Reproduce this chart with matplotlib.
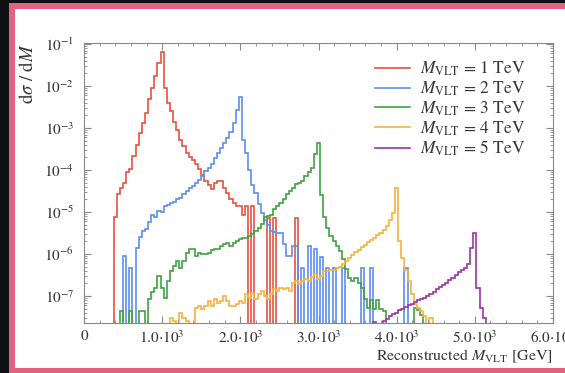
import numpy as np
import matplotlib
matplotlib.use('Agg')
import matplotlib.pyplot as plt
from matplotlib.patches import Rectangle
from matplotlib.ticker import MultipleLocator, FuncFormatter, LogLocator

plt.rcParams['font.family'] = 'STIXGeneral'
plt.rcParams['mathtext.fontset'] = 'stix'

# 40 GeV bins, centred on multiples of 40 GeV; None = empty bin
BIN = 40

# log10(dsigma/dM) per bin
red_start = 400
red_log = [-5.13, -4.58, -4.42, -4.3, -4.05, -3.98, -3.67, -3.4, -3.13, -2.88,
           -2.64, -2.3, -2.05, -1.75, -1.45, -1.20, -2.05, -2.4, -2.6, -2.85,
           -3.05, -3.28, -3.42, -3.6, -3.7, -3.77, -3.85, -3.97, -4.12, -4.25,
           -4.35, -4.45, -4.3, -4.25, -4.27, -4.42, -4.55, -4.7, -4.78, -4.86,
           -4.86, -5.06, -4.86, None, -4.86, None, None, None, None, -5.14,
           None, -5.14, None, None, None, None, None, None, -5.14]

blue_start = 520
blue_log = [-6.05, None, -6.34, None, -5.85, -5.6, -5.45, -5.4, -5.25, -5.06,
            -5.12, -4.98, -5.0, -4.86, -4.84, -4.78, -4.76, -4.7, -4.66, -4.58,
            -4.5, -4.42, -4.38, -4.3, -4.23, -4.15, -4.03, -3.95, -3.85, -3.72,
            -3.6, -3.48, -3.36, -3.24, -3.1, -2.88, -2.56, -2.27, -3.29, -3.6,
            -3.99, -4.35, -4.54, -4.82, -5.02, -5.18, -5.3, -5.45, -5.47, -5.49,
            -5.49, -5.77, -6.05, -6.05, -5.81, -5.81, None, -6.34, None, -5.8,
            None, -5.87, None, -6.06, None, -6.34, None, -6.34, None, None,
            -6.34, None, None, None, None, None, -6.34, None, None, -6.34,
            None, None, None, None, None, None, None, None, None, None,
            -6.34]

green_start = 480
green_log = [-7.36, None, None, -7.36, None, None, -7.36, -7.36, None, -7.08,
             -6.9, -6.8, -6.52, -6.8, -7.04, -6.64, -6.4, -6.29, -6.17, -6.33,
             -6.17, -5.97, -5.89, -5.89, -6.05, -5.97, -6.0, -6.01, -5.97, -5.9,
             -5.89, -5.89, -5.81, -5.77, -5.73, -5.81, -5.73, -5.69, -5.65, -5.61,
             -5.61, -5.57, -5.53, -5.45, -5.37, -5.29, -5.13, -5.1, -5.06, -4.94,
             -4.86, -4.78, -4.70, -4.58, -4.50, -4.42, -4.34, -4.3, -4.26, -4.15,
             -4.05, -3.95, -3.62, -3.35, -4.6, -5.13, -5.37, -5.57, -5.69, -5.81,
             -5.93, -6.13, -6.35, -6.56, -6.64, -6.56, -6.7, -6.8, -7.08, -7.28,
             -7.1, -7.3, -7.1, -7.3, -7.35, None, None, None, None, None,
             None, None, None, None, -7.29, -7.33, -7.45]

orange_start = 1120
orange_log = [-7.52, -7.6, None, -7.40, -7.52, -7.6, None, None, -7.28, -7.24,
              -7.32, -7.24, -7.12, -7.24, -7.08, -7.16, -7.12, -7.0, -7.12, -7.24,
              -7.24, -7.2, -7.12, -7.16, -6.96, -7.04, -6.92, -7.08, -6.96, -6.88,
              -7.0, -7.08, -6.96, -6.84, -6.88, -6.80, -6.84, -6.80, -6.88, -6.68,
              -6.64, -6.72, -6.64, -6.6, -6.64, -6.55, -6.48, -6.6, -6.52, -6.4,
              -6.4, -6.39, -6.37, -6.34, -6.31, -6.25, -6.17, -6.10, -6.02, -5.95,
              -5.9, -5.83, -5.78, -5.72, -5.67, -5.62, -5.55, -5.49, -5.44, -5.33,
              -5.2, -5.02, -4.42, -5.69, -6.09, -6.37, -6.64, -6.96, -7.2, -7.28,
              -7.35, -7.48, None, -7.52]

purple_start = 3720
purple_log = [-7.63, -7.66, -7.66, -7.6, -7.55, -7.48, -7.44, -7.4, -7.34, -7.3,
              -7.26, -7.22, -7.19, -7.15, -7.1, -7.07, -7.04, -7.0, -6.96, -6.9,
              -6.84, -6.79, -6.74, -6.69, -6.62, -6.56, -6.5, -6.44, -6.39, -6.34,
              -6.25, -5.85, -5.49, -6.8, -7.28, -7.52]

labels = [r'$M_{\mathrm{VLT}}$ = 1 TeV', r'$M_{\mathrm{VLT}}$ = 2 TeV',
          r'$M_{\mathrm{VLT}}$ = 3 TeV', r'$M_{\mathrm{VLT}}$ = 4 TeV',
          r'$M_{\mathrm{VLT}}$ = 5 TeV']
colors = ['#e5533f', '#5b8ff0', '#3fa33f', '#f7b23e', '#9c34aa']
series = [(red_start, red_log), (blue_start, blue_log), (green_start, green_log),
          (orange_start, orange_log), (purple_start, purple_log)]

fig = plt.figure(figsize=(5.65, 3.73), dpi=100, facecolor='#0e1013')
# pink frame and white card behind the plot
fig.patches.append(Rectangle((9/565, 0), 1.1, (373-3)/373, transform=fig.transFigure,
                             facecolor='#e2627f', edgecolor='none', zorder=-2))
fig.patches.append(Rectangle((15/565, 5/373), 1.1, (368-9)/373, transform=fig.transFigure,
                             facecolor='white', edgecolor='none', zorder=-1))

ax = fig.add_axes([84/565, 50/373, 469/565, 280/373])
ax.set_facecolor('white')

for (start, logs), c, lab in zip(series, colors, labels):
    vals = np.array([1e-14 if v is None else 10.0**v for v in logs])
    edges = start - BIN/2 + BIN*np.arange(len(vals)+1)
    ax.stairs(vals, edges, baseline=1e-14, color=c, lw=1.2, label=lab)

ax.set_yscale('log')
ax.set_xlim(0, 6000)
ax.set_ylim(10**-7.643, 10**-0.976)

ax.xaxis.set_major_locator(MultipleLocator(1000))
ax.xaxis.set_minor_locator(MultipleLocator(200))
ax.xaxis.set_major_formatter(FuncFormatter(
    lambda v, p: '0' if v == 0 else r'$%.1f{\cdot}10^{3}$' % (v/1000)))
ax.yaxis.set_major_locator(LogLocator(base=10, numticks=20))
ax.yaxis.set_minor_locator(LogLocator(base=10, subs=np.arange(2, 10), numticks=20))

ax.tick_params(which='both', direction='in', top=True, right=True,
               color='#888888', labelcolor='#333333', labelsize=11)
ax.tick_params(which='major', length=5, width=0.8, pad=7)
ax.tick_params(axis='x', which='major', pad=4.5)
ax.tick_params(which='minor', length=2.5, width=0.6)
for s in ax.spines.values():
    s.set_color('#888888')
    s.set_linewidth(0.8)

ax.set_ylabel(r'$\mathrm{d}\sigma\ /\ \mathrm{d}M$', loc='top', fontsize=13.5,
              color='#333333', labelpad=5)
ax.set_xlabel(r'Reconstructed $M_{\mathrm{VLT}}$ [GeV]', loc='right', fontsize=11.5,
              color='#333333', labelpad=1)

ax.legend(loc='upper left', bbox_to_anchor=(0.62, 0.94), frameon=False, fontsize=12.5,
          handlelength=2.0, handletextpad=0.6, labelspacing=0.08, borderpad=0,
          borderaxespad=0, labelcolor='#333333')

fig.savefig('out.png', dpi=100, facecolor=fig.get_facecolor())
